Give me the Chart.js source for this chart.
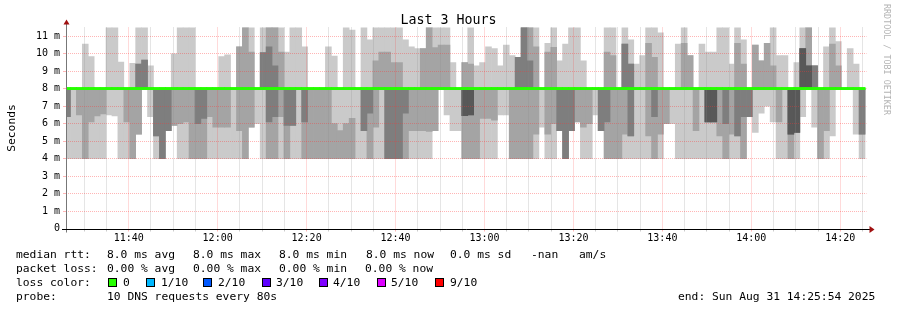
<!DOCTYPE html>
<html>
<head>
<meta charset="utf-8">
<script src="https://cdn.jsdelivr.net/npm/chart.js@4.4.1/dist/chart.umd.min.js"></script>
<style>
  html, body { margin: 0; padding: 0; background: #fff; }
  #wrap { position: relative; width: 897px; height: 310px; overflow: hidden; }
  #smoke { position: absolute; left: 0; top: 0; }
  .t { position: absolute; white-space: pre; font-family: "DejaVu Sans Mono", monospace; font-size: 11.3px; line-height: 13px; color: #000; }
  .box { position: absolute; width: 7px; height: 7px; border: 1px solid #000; }
  #title { position: absolute; left: 0; top: 12px; width: 897px; text-align: center; font-family: "DejaVu Sans Mono", monospace; font-size: 13.3px; line-height: 15px; color: #000; }
  #mark { position: absolute; left: 882px; top: 4px; writing-mode: vertical-rl; font-family: "DejaVu Sans Mono", monospace; font-size: 8.4px; color: #b4b4b4; white-space: pre; }
</style>
</head>
<body>
<div id="wrap">
  <canvas id="smoke" width="897" height="310"></canvas>
  <div id="title">Last 3 Hours</div>
  <div id="legend"></div>
  <div id="mark">RRDTOOL / TOBI OETIKER</div>
</div>
<script>
const N = null;

// one slot = one probe round (10 pings every 80 s), oldest first
// band1 = slowest..fastest ping, band2 = 2nd..9th, band3 = 3rd..8th, band4 = 4th..7th  (ms)
const band1 = [
  [4,8],[4,8],[4,8],[4,10.55],[4,9.83],[4,8],[4,8],[6.5,12],[6.44,12],[4,9.52],
  [4,8],[4,9.45],[5.4,12],[8,12],[6.4,9.3],[4,8],[4,8],[5.6,8],[5.9,10.0],[4,12],
  [4,12],[4,12],[4,8],[4,8],[4,8],[4,8],[4,9.83],[4,9.94],[4,8],[4,10.4],
  [4,12],[5.8,12],[6.0,8],[4,12],[4,12],[4,12],[4,12],[4,10.1],[4,12],[4,12],
  [4,10.4],[4,8],[4,8],[4,8],[4,10.4],[4,9.87],[4,8],[4,12],[4,11.35],[4,8],
  [4,12],[4,10.8],[4,12],[4,12],[4,12],[4,12],[4,12],[4,10.8],[4,10.4],[4,10.3],
  [4,10.3],[4,12],[5.6,12],[8,12],[6.5,12],[5.6,9.5],[5.6,8],[4,9.5],[4,12],[4,9.3],
  [4,9.5],[4,10.4],[4,10.3],[6.5,9.3],[6.5,10.5],[4,9.9],[4,9.8],[4,12],[4,12],[4,12],
  [5.8,8],[4,10.6],[4,12],[5.6,9.6],[4,10.55],[5.6,12],[6.1,12],[4,9.6],[4,8],[6.5,8],
  [5.6,8],[4,12],[4,12],[4,8],[4,12],[4,10.8],[4,9.4],[4,9.9],[4,12],[4,12],
  [4,11.2],[6.0,8],[6.0,8],[4,10.55],[4,12],[4,9.9],[4,8],[4,10.55],[4,10.1],[4,10.1],
  [4,12],[4,12],[4,9.4],[4,12],[4,10.8],[6.4,8],[5.5,10.5],[6.6,9.6],[7.0,10.6],[6.1,12],
  [4,9.9],[4,9.9],[4,8],[4,9.5],[6.4,12],[8,12],[5.8,9.3],[4,8],[4,10.4],[5.3,12],
  [8,10.7],N,[8,10.3],[5.4,9.4],[4,8]
];
const band2 = [
  [6.4,8],N,[6.5,8],[4,8],[6.1,8],[6.44,8],[6.55,8],N,N,N,
  [6.1,8],[4,8],[5.4,9.4],[8,9.64],N,[5.3,8],[4,8],[5.6,8],[5.9,8],[6.0,8],
  [6.1,8],[4,8],[4,8],[4,8],[6.4,8],[5.8,8],[5.8,8],[5.8,8],N,[5.6,10.4],
  [4,12],[5.8,10.1],N,[8,10.06],[4,12],[4,12],[6.4,10.1],[4,8],[5.9,8],N,
  [4,8],[4,8],[4,8],[4,8],[4,8],[4,6.0],[4,5.6],[4,6.0],[4,6.3],N,
  [5.6,8],[4,8],[5.8,9.6],[8,10.1],[4,10.1],[4,9.5],[4,9.5],[4,8],[5.6,8],[5.6,8],
  [5.6,10.3],[5.55,12],[5.6,10.35],[8,10.5],[8,10.5],N,N,[4,9.5],[4,9.4],[4,8],
  [6.3,8],[6.3,8],[6.2,8],N,N,[4,8],[4,9.8],[4,12],[4,12],[5.4,10.4],
  N,[5.4,10.1],[6.0,10.36],[5.6,8],[4,8],[5.6,8],[6.1,8],[5.8,8],[6.0,8],N,
  [5.6,8],[4,10.1],[4,9.9],[4,8],[5.4,10.55],[5.3,9.4],N,N,[5.3,10.6],[4,9.8],
  [5.4,8],[6.0,8],N,N,[8,10.6],[8,9.9],[5.6,8],N,[6.1,8],[6.1,8],
  [5.3,8],[4,8],[5.4,8],[5.3,10.6],[4,9.4],[6.4,8],[8,10.5],[8,9.6],[8,10.6],[8,9.3],
  [6.1,8],N,[4,8],[5.5,8],[8,10.3],[8,12],[8,9.3],[4,8],[5.6,8],[8,10.55],
  [8,9.3],N,N,N,[5.4,8]
];
const band3 = [
  [6.4,8],N,N,N,N,N,N,N,N,N,
  N,N,[8,9.4],[8,9.64],N,[5.3,8],[4,8],[5.6,8],N,N,
  N,N,[6.0,8],[6.3,8],N,N,N,N,N,N,
  N,N,N,[8,10.06],[6.1,10.4],[6.4,9.3],N,[5.9,8],[5.9,8],N,
  [6.1,8],N,N,N,N,N,N,N,N,N,
  [5.6,8],[6.6,8],N,N,[4,8],[4,8],[4,8],[6.6,8],N,N,
  N,N,N,N,N,N,N,[6.45,8],[6.5,8],N,
  N,N,N,N,N,N,[8,9.8],[8,12],[8,9.6],N,
  N,N,N,[5.6,8],[4,8],[5.6,8],N,N,N,N,
  [5.6,8],[6.1,8],N,N,[8,10.55],[5.3,9.4],N,N,N,[6.4,8],
  N,N,N,N,N,N,N,N,[6.1,8],[6.1,8],
  N,[6.0,8],N,[5.3,8],[6.4,8],[6.4,8],N,N,N,N,
  N,N,[5.4,8],[5.5,8],[8,10.3],[8,9.3],[8,9.3],N,N,N,
  N,N,N,N,[5.4,8]
];
const band4 = [
  N,N,N,N,N,N,N,N,N,N,  N,N,N,N,N,N,N,N,N,N,  N,N,N,N,N,N,N,N,N,N,
  N,N,N,N,N,N,N,N,N,N,  N,N,N,N,N,N,N,N,N,N,  N,N,N,N,N,N,N,N,N,N,
  N,N,N,N,N,N,N,[6.45,8],[6.5,8],N,
  N,N,N,N,N,N,N,N,N,N,  N,N,N,N,N,N,N,N,N,N,  N,N,N,N,N,N,N,N,N,N,
  N,N,N,N,N,N,N,N,[6.1,8],[6.1,8],
  N,N,N,N,N,N,N,N,N,N,
  N,N,[5.4,8],[5.5,8],[8,10.3],[8,9.3],N,N,N,N,
  N,N,N,N,N
];
const medianRtt = [
  8.0,8.0,8.0,8.0,8.0,8.0,8.0,8.0,8.0,8.0,8.0,8.0,8.0,8.0,8.0,
  8.0,8.0,8.0,8.0,8.0,8.0,8.0,8.0,8.0,8.0,8.0,8.0,8.0,8.0,8.0,
  8.0,8.0,8.0,8.0,8.0,8.0,8.0,8.0,8.0,8.0,8.0,8.0,8.0,8.0,8.0,
  8.0,8.0,8.0,8.0,8.0,8.0,8.0,8.0,8.0,8.0,8.0,8.0,8.0,8.0,8.0,
  8.0,8.0,8.0,8.0,8.0,8.0,8.0,8.0,8.0,8.0,8.0,8.0,8.0,8.0,8.0,
  8.0,8.0,8.0,8.0,8.0,8.0,8.0,8.0,8.0,8.0,8.0,8.0,8.0,8.0,8.0,
  8.0,8.0,8.0,8.0,8.0,8.0,8.0,8.0,8.0,8.0,8.0,8.0,8.0,8.0,8.0,
  8.0,8.0,8.0,8.0,8.0,8.0,8.0,8.0,8.0,8.0,8.0,8.0,8.0,8.0,8.0,
  8.0,8.0,8.0,8.0,8.0,8.0,8.0,8.0,8.0,8.0,8.0,8.0,8.0,8.0,8.0
];

const timeLabels = ['11:40','12:00','12:20','12:40','13:00','13:20','13:40','14:00','14:20'];
const labelMinutes = [40, 60, 80, 100, 120, 140, 160, 180, 200];   // minutes after 11:00
const yTickLabels = ['0','1 m','2 m','3 m','4 m','5 m','6 m','7 m','8 m','9 m','10 m','11 m'];

const legendRows = [
  [248, [[16,'median rtt:'],[107,'8.0 ms avg'],[193,'8.0 ms max'],[279,'8.0 ms min'],[366,'8.0 ms now'],[450,'0.0 ms sd'],[531,'-nan'],[579,'am/s']]],
  [262, [[16,'packet loss:'],[107,'0.00 % avg'],[193,'0.00 % max'],[279,'0.00 % min'],[365,'0.00 % now']]],
  [276, [[16,'loss color:'],[123,'0'],[161,'1/10'],[218,'2/10'],[276,'3/10'],[333,'4/10'],[391,'5/10'],[450,'9/10']]],
  [290, [[16,'probe:'],[107,'10 DNS requests every 80s'],[678,'end: Sun Aug 31 14:25:54 2025']]]
];
const lossBoxes = [[108,'#26ff00'],[146,'#00b8ff'],[203,'#0059ff'],[262,'#5e00ff'],[319,'#7e00ff'],[377,'#dd00ff'],[435,'#ff0000']];

// legend as html text
const legend = document.getElementById('legend');
legendRows.forEach(([top, items]) => {
  items.forEach(([left, txt]) => {
    const s = document.createElement('div');
    s.className = 't';
    s.style.left = left + 'px';
    s.style.top = top + 'px';
    s.textContent = txt;
    legend.appendChild(s);
  });
});
lossBoxes.forEach(([left, col]) => {
  const b = document.createElement('div');
  b.className = 'box';
  b.style.left = left + 'px';
  b.style.top = '278px';
  b.style.background = col;
  legend.appendChild(b);
});

const slotMinutes = 80 / 60;
const firstSlotStart = 25 + 34 / 60;     // 11:25:34
const slotTime = i => firstSlotStart + (i + 0.5) * slotMinutes;
const toBars = band => band.map((r, i) => ({ x: slotTime(i), y: r }));
const medianHalf = 0.06;

const FONT = "'DejaVu Sans Mono', monospace";
const redGrid = 'rgba(255,50,50,0.36)';
const grayGrid = 'rgba(140,140,140,0.45)';

function barSet(label, data, color) {
  return {
    label: label,
    data: data,
    backgroundColor: color,
    borderWidth: 0,
    grouped: false,
    barPercentage: 1,
    categoryPercentage: 1
  };
}

// grid sits over the smoke (rrdtool style); median line and axes go on top of it
const axesPlugin = {
  id: 'rrdAxes',
  afterDraw(chart) {
    const ctx = chart.ctx;
    const a = chart.chartArea;
    ctx.save();
    ctx.beginPath();
    ctx.rect(a.left, a.top, a.right - a.left, a.bottom - a.top);
    ctx.clip();
    chart.getDatasetMeta(0).controller.draw();
    ctx.restore();

    const y0 = Math.round(chart.scales.y.getPixelForValue(0)) + 0.5;
    const x0 = Math.round(a.left) + 0.5;
    ctx.save();
    ctx.lineWidth = 1;
    ctx.strokeStyle = '#777';
    ctx.beginPath();
    ctx.moveTo(x0, y0 + 3);
    ctx.lineTo(x0, a.top - 4);
    ctx.stroke();
    ctx.strokeStyle = '#000';
    ctx.beginPath();
    ctx.moveTo(a.left - 4, y0);
    ctx.lineTo(a.right + 4, y0);
    ctx.stroke();
    ctx.fillStyle = '#a01010';
    ctx.beginPath();
    ctx.moveTo(x0 - 3, a.top - 3);
    ctx.lineTo(x0 + 3, a.top - 3);
    ctx.lineTo(x0, a.top - 8);
    ctx.closePath();
    ctx.fill();
    ctx.beginPath();
    ctx.moveTo(a.right + 3, y0 - 3.5);
    ctx.lineTo(a.right + 3, y0 + 3.5);
    ctx.lineTo(a.right + 8, y0);
    ctx.closePath();
    ctx.fill();
    ctx.restore();
  }
};

new Chart(document.getElementById('smoke'), {
  type: 'bar',
  data: {
    datasets: [
      barSet('median', medianRtt.map((m, i) => ({ x: slotTime(i), y: [m - medianHalf, m + medianHalf] })), '#26ff00'),
      barSet('band4', toBars(band4), '#585858'),
      barSet('band3', toBars(band3), '#7e7e7e'),
      barSet('band2', toBars(band2), '#a4a4a4'),
      barSet('band1', toBars(band1), '#cacaca')
    ]
  },
  options: {
    responsive: false,
    animation: false,
    devicePixelRatio: 1,
    layout: { padding: { left: 0, right: 30.5, top: 27.5, bottom: 61.5 } },
    plugins: {
      legend: { display: false },
      tooltip: { enabled: false },
      title: { display: false }
    },
    scales: {
      x: {
        type: 'linear',
        min: 25.9,
        max: 205.9,
        offset: false,
        afterBuildTicks: s => {
          const t = [];
          for (let v = 30; v <= 205; v += 5) t.push({ value: v });
          s.ticks = t;
        },
        afterFit: s => { s.height = 20; },
        ticks: {
          autoSkip: false,
          maxRotation: 0,
          padding: 1,
          color: '#000',
          font: { family: FONT, size: 10 },
          callback: v => {
            const k = labelMinutes.indexOf(v);
            return k >= 0 ? timeLabels[k] : '';
          }
        },
        grid: {
          z: 1,
          offset: false,
          tickLength: 3,
          color: c => (c.tick && c.tick.value % 20 === 0) ? redGrid : grayGrid
        },
        border: { display: false, dash: [1, 1] }
      },
      y: {
        min: 0,
        max: 11.5,
        afterFit: s => { s.width = 66; },
        ticks: {
          stepSize: 0.5,
          padding: 3,
          color: '#000',
          font: { family: FONT, size: 10 },
          callback: v => Number.isInteger(v) ? yTickLabels[v] : ''
        },
        grid: {
          z: 1,
          tickLength: 3,
          color: c => {
            const v = c.tick ? c.tick.value : 1;
            if (v === 0) return 'rgba(0,0,0,0)';
            return Number.isInteger(v) ? redGrid : grayGrid;
          }
        },
        border: { display: false, dash: [1, 1] },
        title: {
          display: true,
          text: 'Seconds',
          color: '#000',
          font: { family: FONT, size: 11.3 },
          padding: { top: 5, bottom: 0 }
        }
      }
    }
  },
  plugins: [axesPlugin]
});
</script>
</body>
</html>
